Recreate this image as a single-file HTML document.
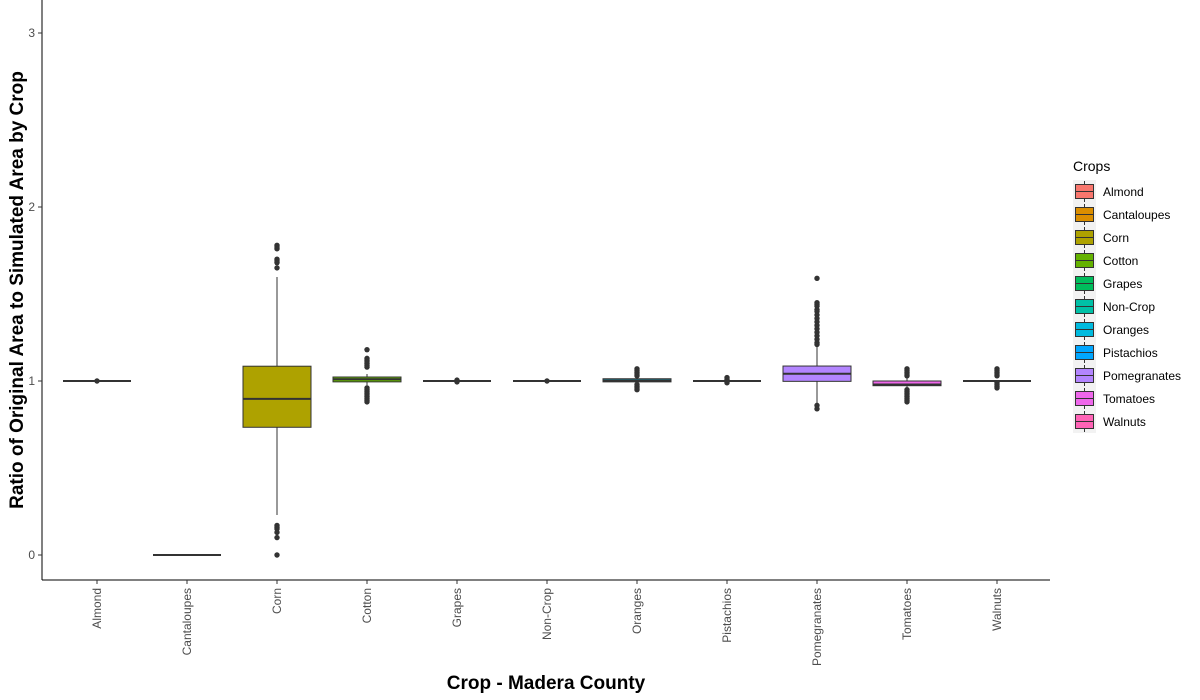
<!DOCTYPE html>
<html><head><meta charset="utf-8"><style>
body{margin:0;background:#fff;}
svg{display:block;font-family:"Liberation Sans",Arial,sans-serif;}
</style></head><body>
<svg id="chart" width="1200" height="700" viewBox="0 0 1200 700" xmlns="http://www.w3.org/2000/svg">
<g id="axes"></g><g id="marks"></g><g id="legend"></g>
<text transform="translate(23,290) rotate(-90)" text-anchor="middle" font-size="19" font-weight="bold" fill="#000">Ratio of Original Area to Simulated Area by Crop</text>
<text x="546" y="689" text-anchor="middle" font-size="19" font-weight="bold" fill="#000">Crop - Madera County</text>
</svg>
<script>
const categories=["Almond","Cantaloupes","Corn","Cotton","Grapes","Non-Crop","Oranges","Pistachios","Pomegranates","Tomatoes","Walnuts"];
const colors=["#F8766D","#DB8E00","#AEA200","#64B200","#00BD5C","#00C1A7","#00BADE","#00A6FF","#B385FF","#EF67EB","#FF63B6"];
const q1=[1.0,0.0,0.734,0.995,1.0,1.0,0.995,1.0,0.998,0.973,1.0];
const med=[1.0,0.0,0.897,1.01,1.0,1.0,1.003,1.0,1.042,0.98,1.0];
const q3=[1.0,0.0,1.085,1.023,1.0,1.0,1.013,1.0,1.086,1.0,1.0];
const wlo=[1.0,0.0,0.23,0.975,1.0,1.0,0.99,1.0,0.87,0.96,1.0];
const whi=[1.0,0.0,1.598,1.04,1.0,1.0,1.02,1.0,1.20,1.02,1.0];
const outliers=[[1.0],[],[1.78,1.77,1.76,1.70,1.69,1.68,1.65,0.17,0.16,0.15,0.13,0.10,0.0],
[1.18,1.13,1.12,1.11,1.10,1.09,1.08,0.96,0.95,0.94,0.93,0.92,0.91,0.90,0.89,0.88],
[1.0,1.005,0.995],[1.0],[1.07,1.06,1.05,1.04,1.03,0.98,0.97,0.96,0.95],
[1.02,1.01,1.0,0.99],[1.59,1.45,1.44,1.43,1.41,1.40,1.38,1.36,1.34,1.32,1.30,1.28,1.26,1.24,1.22,1.21,0.86,0.84],
[1.07,1.06,1.05,1.04,1.03,0.95,0.94,0.93,0.92,0.91,0.90,0.89,0.88],[1.07,1.06,1.05,1.04,1.03,0.99,0.98,0.97,0.96]];
const yTicks=[0,1,2,3];
const NS="http://www.w3.org/2000/svg";
const L=42,R=1050,T=0,B=580;
function y(v){return 555-v*174;}
function x(i){return 97+i*90;}
function mk(p,tag,at){const e=document.createElementNS(NS,tag);for(const k in at)e.setAttribute(k,at[k]);p.appendChild(e);return e;}
const ax=document.getElementById('axes'),mg=document.getElementById('marks'),lg=document.getElementById('legend');
let e=mk(ax,'line',{x1:L,y1:T,x2:L,y2:B,stroke:'#000','stroke-width':1});

e=mk(ax,'line',{x1:L,y1:B,x2:R,y2:B,stroke:'#000','stroke-width':1});

yTicks.forEach(t=>{
 let tk=mk(ax,'line',{x1:L-4,y1:y(t),x2:L,y2:y(t),stroke:'#333'});
 
 let tx=mk(ax,'text',{x:L-7,y:y(t)+4,'text-anchor':'end','font-size':12,fill:'#4d4d4d'});tx.textContent=t;
 
});
categories.forEach((c,i)=>{
 const cx=x(i);
 let tk=mk(ax,'line',{x1:cx,y1:B,x2:cx,y2:B+4,stroke:'#333'});
 
 let tx=mk(ax,'text',{transform:`translate(${cx+4},${B+8}) rotate(-90)`,'text-anchor':'end','font-size':12,fill:'#4d4d4d'});tx.textContent=c;
 
 const g=mk(mg,'g',{});
 
 mk(g,'line',{x1:cx,y1:y(whi[i]),x2:cx,y2:y(q3[i]),stroke:'#333','stroke-width':1});
 mk(g,'line',{x1:cx,y1:y(q1[i]),x2:cx,y2:y(wlo[i]),stroke:'#333','stroke-width':1});
 const hh=Math.max(y(q1[i])-y(q3[i]),0);
 mk(g,'rect',{x:cx-34,y:y(q3[i]),width:68,height:hh,fill:colors[i],stroke:'#333','stroke-width':1});
 mk(g,'line',{x1:cx-34,y1:y(med[i]),x2:cx+34,y2:y(med[i]),stroke:'#333','stroke-width':2});
 outliers[i].forEach(v=>{
  let p=mk(g,'circle',{cx:cx,cy:y(v),r:2.7,fill:'#333'});
  
 });
});
let lt=mk(lg,'text',{x:1073,y:171,'font-size':14,fill:'#000'});lt.textContent='Crops';

mk(lg,'rect',{x:1073,y:180,width:23,height:253,fill:'#f2f2f2'});
categories.forEach((c,i)=>{
 const yy=180+i*23;
 const g=mk(lg,'g',{});
 
 mk(g,'line',{x1:1084.5,y1:yy+1,x2:1084.5,y2:yy+22,stroke:'#333'});
 mk(g,'rect',{x:1075.5,y:yy+4.5,width:18,height:14,fill:colors[i],stroke:'#333'});
 mk(g,'line',{x1:1075.5,y1:yy+11.5,x2:1093.5,y2:yy+11.5,stroke:'#333'});
 let t=mk(g,'text',{x:1103,y:yy+16,'font-size':12,fill:'#000'});t.textContent=c;
});
</script>
</body></html>
